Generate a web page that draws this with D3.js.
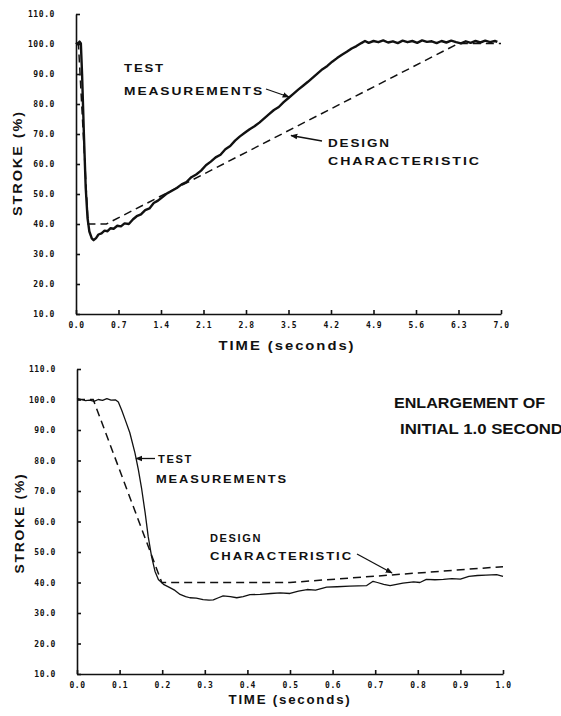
<!DOCTYPE html>
<html>
<head>
<meta charset="utf-8">
<script src="https://cdn.jsdelivr.net/npm/d3@7"></script>
<style>
  body { margin: 0; background: #fff; }
  svg { display: block; }
  .tick text { font-family: "DejaVu Sans Mono", monospace; font-weight: bold; font-size: 8px; letter-spacing: 0.6px; fill: #111; }
  .lab { font-family: "Liberation Sans", Arial, sans-serif; font-weight: bold; fill: #111; }
</style>
</head>
<body>
<div id="chart"></div>
<script>
"use strict";
// ---- data ----
// upper panel: 0 - 7 s
const topTicksX = [0, 0.7, 1.4, 2.1, 2.8, 3.5, 4.2, 4.9, 5.6, 6.3, 7.0];
const ticksY = [10, 20, 30, 40, 50, 60, 70, 80, 90, 100, 110];
const topTestT = [0.00, 0.03, 0.06, 0.08, 0.10, 0.13, 0.16, 0.19, 0.22, 0.26, 0.29, 0.33, 0.37, 0.42, 0.47, 0.52,
  0.57, 0.62, 0.68, 0.74, 0.80, 0.87, 0.94, 1.00, 1.07, 1.14, 1.21, 1.28, 1.35, 1.42, 1.50, 1.58, 1.66, 1.74,
  1.82, 1.90, 1.98, 2.06, 2.14, 2.22, 2.30, 2.38, 2.46, 2.54, 2.62, 2.70, 2.78, 2.86, 2.94, 3.02, 3.10, 3.18,
  3.26, 3.34, 3.42, 3.50, 3.58, 3.66, 3.74, 3.82, 3.90, 3.98, 4.06, 4.14, 4.22, 4.30, 4.38, 4.46, 4.54, 4.62,
  4.70, 4.76, 4.82, 4.90, 4.98, 5.06, 5.14, 5.22, 5.30, 5.38, 5.46, 5.54, 5.62, 5.70, 5.78, 5.86, 5.94, 6.02,
  6.10, 6.18, 6.26, 6.34, 6.42, 6.50, 6.58, 6.66, 6.74, 6.82, 6.90, 6.94];
const topTestV = [100.5, 100.0, 100.8, 100.2, 90.0, 70.0, 52.0, 42.0, 37.5, 35.2, 34.6, 35.3, 36.5, 36.9, 37.8, 37.6,
  38.6, 38.4, 39.4, 39.2, 40.2, 40.0, 41.6, 42.6, 43.2, 44.6, 45.2, 47.0, 47.8, 48.9, 50.2, 51.1, 52.0, 53.2,
  54.0, 55.6, 56.5, 57.8, 59.6, 60.8, 62.2, 63.1, 64.9, 66.0, 67.8, 69.2, 70.4, 71.6, 72.6, 73.8, 75.2, 76.6,
  78.0, 79.0, 80.6, 82.0, 83.4, 84.8, 86.1, 87.4, 88.8, 90.2, 91.6, 92.7, 94.1, 95.3, 96.4, 97.4, 98.5, 99.3,
  100.3, 101.0, 100.4, 101.0, 100.6, 101.2, 100.5, 100.9, 100.3, 101.1, 100.6, 101.0, 100.4, 101.2, 100.7, 100.9, 100.3, 101.0,
  100.5, 101.1, 100.6, 100.2, 100.9, 100.4, 101.0, 100.5, 101.1, 100.6, 101.0, 100.7];
const topDesignT = [0, 0.04, 0.20, 0.50, 6.30, 7.00];
const topDesignV = [100, 100, 40, 40, 100.2, 100.2];

// lower panel: first second
const botTicksX = [0, 0.1, 0.2, 0.3, 0.4, 0.5, 0.6, 0.7, 0.8, 0.9, 1.0];
const botTestT = [0.000, 0.010, 0.020, 0.030, 0.040, 0.050, 0.060, 0.070, 0.080, 0.090, 0.097, 0.105, 0.113, 0.124,
  0.136, 0.144, 0.152, 0.160, 0.167, 0.175, 0.183, 0.191, 0.203, 0.218, 0.230, 0.242, 0.255, 0.265, 0.280, 0.296,
  0.310, 0.320, 0.332, 0.343, 0.360, 0.375, 0.390, 0.406, 0.430, 0.455, 0.477, 0.500, 0.520, 0.540, 0.560, 0.586,
  0.610, 0.640, 0.660, 0.680, 0.695, 0.705, 0.720, 0.735, 0.750, 0.765, 0.790, 0.805, 0.820, 0.840, 0.860, 0.880,
  0.900, 0.920, 0.940, 0.960, 0.985, 1.000];
const botTestV = [100.4, 100.0, 99.6, 99.8, 99.4, 100.0, 99.7, 100.3, 99.8, 99.9, 99.2, 96.5, 93.4, 89.1,
  82.5, 77.0, 70.5, 62.8, 55.2, 48.6, 43.7, 41.0, 39.4, 38.3, 37.4, 36.1, 35.4, 35.0, 34.9, 34.4,
  34.2, 34.3, 35.0, 35.6, 35.4, 35.0, 35.4, 36.0, 36.1, 36.4, 36.6, 36.4, 37.2, 37.7, 37.5, 38.5,
  38.6, 38.8, 38.9, 39.0, 40.4, 40.0, 39.4, 39.0, 39.4, 39.8, 40.2, 40.0, 41.0, 40.9, 41.0, 41.3,
  41.1, 42.0, 42.3, 42.4, 42.6, 42.0];
const botDesignT = [0, 0.038, 0.199, 0.50, 1.00];
const botDesignV = [100, 100, 40, 40, 45.2];

const width = 561;
const height = 716;

const svg = d3.select('#chart').append('svg')
  .attr('width', width)
  .attr('height', height);

svg.append('defs').append('marker')
  .attr('id', 'head')
  .attr('viewBox', '0 0 10 10')
  .attr('refX', 9).attr('refY', 5)
  .attr('markerWidth', 7).attr('markerHeight', 7)
  .attr('markerUnits', 'userSpaceOnUse')
  .attr('orient', 'auto')
  .append('path')
  .attr('d', 'M0,1 L10,5 L0,9 Z')
  .attr('fill', '#111');

// one panel: scales, axes, two lines
const panel = (xDomain, xRange, yRange, xTicks, xFmt, test, design, testWidth) => {
  const x = d3.scaleLinear().domain(xDomain).range(xRange);
  const y = d3.scaleLinear().domain([10, 110]).range(yRange);
  const g = svg.append('g');

  g.append('g')
    .attr('transform', `translate(${xRange[0]},0)`)
    .call(d3.axisLeft(y).tickValues(ticksY).tickSize(-4).tickSizeOuter(0).tickPadding(21).tickFormat(d3.format('.1f')))
    .call(a => a.selectAll('line, path').attr('stroke', '#111').attr('stroke-width', 1.6));

  g.append('g')
    .attr('transform', `translate(0,${yRange[0]})`)
    .call(d3.axisBottom(x).tickValues(xTicks).tickSize(-4).tickSizeOuter(0).tickPadding(8).tickFormat(xFmt))
    .call(a => a.selectAll('line, path').attr('stroke', '#111').attr('stroke-width', 1.6));

  const line = d3.line().x(d => x(d[0])).y(d => y(d[1]));

  g.append('path')
    .datum(d3.zip(design[0], design[1]))
    .attr('d', line)
    .attr('fill', 'none')
    .attr('stroke', '#111')
    .attr('stroke-width', 1.5)
    .attr('stroke-dasharray', '8,5');

  g.append('path')
    .datum(d3.zip(test[0], test[1]))
    .attr('d', line)
    .attr('fill', 'none')
    .attr('stroke', '#111')
    .attr('stroke-width', testWidth)
    .attr('stroke-linejoin', 'round');
};

panel([0, 7], [76, 501], [314, 14], topTicksX, d3.format('.1f'),
  [topTestT, topTestV], [topDesignT, topDesignV], 2.4);
panel([0, 1], [77, 503], [674, 369], botTicksX, d3.format('.1f'),
  [botTestT, botTestV], [botDesignT, botDesignV], 1.3);

// text labels: wide lettering with some spacing, stretched to the measured width
const label = (txt, x, y, size, len, anchor, spacing) => svg.append('text')
  .attr('class', 'lab')
  .attr('x', x).attr('y', y)
  .attr('font-size', size)
  .attr('text-anchor', anchor || 'start')
  .style('letter-spacing', (spacing === undefined ? 1.6 : spacing) + 'px')
  .attr('textLength', len)
  .attr('lengthAdjust', 'spacingAndGlyphs')
  .text(txt);

const vlabel = (txt, x, y, len) => label(txt, 0, 0, 12, len, 'middle')
  .attr('transform', `translate(${x},${y}) rotate(-90)`);

vlabel('STROKE (%)', 22, 163, 106);
vlabel('STROKE (%)', 24, 523, 101);
label('TIME (seconds)', 287, 350, 12, 137, 'middle');
label('TIME (seconds)', 290, 704, 12, 123, 'middle');

label('TEST', 124, 72, 11.5, 41);
label('MEASUREMENTS', 124, 95, 11.5, 140);
label('DESIGN', 328, 147, 11.5, 63);
label('CHARACTERISTIC', 328, 165, 11.5, 153);

label('TEST', 158, 463, 11, 35);
label('MEASUREMENTS', 156, 483, 11, 132);
label('DESIGN', 210, 542, 11, 52);
label('CHARACTERISTIC', 210, 560, 11, 143);

label('ENLARGEMENT OF', 394, 408, 14, 151, 'start', 0);
label('INITIAL 1.0 SECOND', 400, 434, 14, 163, 'start', 0);

// arrows
const arrow = (x1, y1, x2, y2) => svg.append('line')
  .attr('x1', x1).attr('y1', y1).attr('x2', x2).attr('y2', y2)
  .attr('stroke', '#111').attr('stroke-width', 1.3)
  .attr('marker-end', 'url(#head)');

arrow(266, 89, 289, 97);
arrow(322, 141, 291, 135.5);
arrow(155, 458.5, 136, 458.5);
arrow(357, 554, 392, 573);
</script>
</body>
</html>
